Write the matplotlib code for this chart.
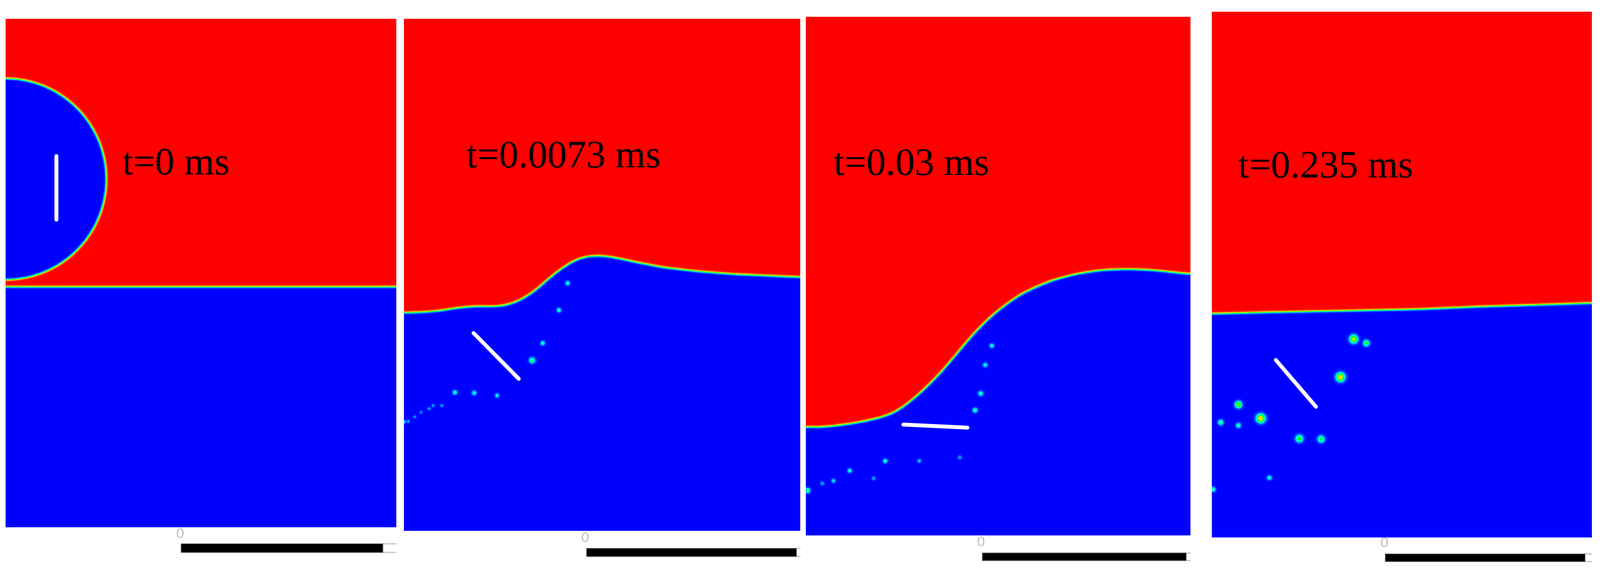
import numpy as np
import matplotlib
matplotlib.use('Agg')
import matplotlib.pyplot as plt
from matplotlib.colors import LinearSegmentedColormap
from matplotlib.patches import Rectangle

# all values are read in reference pixels (x to the right, y downwards)
labels = ['t=0 ms', 't=0.0073 ms', 't=0.03 ms', 't=0.235 ms']
label_x = [241, 918, 1641, 2437]
label_y = [343, 329, 344, 349]

panel_left = [11, 795, 1586, 2385]
panel_right = [780, 1575, 2343, 3133]
panel_top = [37, 37, 33, 23]
panel_bottom = [1037, 1044, 1053, 1057]

# gas/liquid interface
iface1_x = [11, 780]
iface1_y = [564, 564]
iface2_x = [795, 831, 867, 902, 933, 974, 1004, 1030, 1056, 1081, 1122, 1147, 1178, 1209, 1254, 1306, 1377, 1443, 1575]
iface2_y = [615, 614, 611, 605, 602, 603, 599, 587, 570, 546, 516, 505, 502, 506, 516, 526, 534, 539, 545]
iface3_x = [1586, 1621, 1672, 1723, 1759, 1794, 1825, 1856, 1886, 1917, 1958, 2009, 2065, 2116, 2167, 2218, 2269, 2343]
iface3_y = [840, 840, 834, 824, 813, 788, 760, 728, 692, 655, 615, 578, 553, 539, 531, 529, 531, 539]
iface4_x = [2385, 2503, 2656, 2799, 2911, 3013, 3133]
iface4_y = [617, 614, 611, 608, 603, 600, 596]

# bubble in first panel
bubble_x = 11
bubble_y = 352
bubble_r = 198

# white plate ends
plate_x = [[111, 111], [932, 1021], [1778, 1904], [2511, 2590]]
plate_y = [[307, 432], [655, 745], [835, 841], [708, 800]]

# droplets: x, y, peak value, size
drops2_x = [1117, 1100, 1068, 1047, 895, 933, 978, 869, 852, 844, 828, 816, 803, 796]
drops2_y = [557, 610, 675, 709, 772, 773, 778, 798, 798, 804, 811, 820, 829, 830]
drops2_v = [0.34, 0.36, 0.36, 0.45, 0.36, 0.34, 0.3, 0.2, 0.2, 0.2, 0.18, 0.18, 0.2, 0.25]
drops2_s = [3.0, 3.0, 3.0, 3.8, 3.0, 3.0, 2.8, 2.2, 2.2, 2.2, 2.0, 2.0, 2.2, 2.2]

drops3_x = [1952, 1939, 1930, 1919, 1742, 1809, 1889, 1672, 1719, 1640, 1618, 1589]
drops3_y = [680, 718, 774, 807, 907, 907, 900, 926, 941, 946, 951, 965]
drops3_v = [0.33, 0.33, 0.38, 0.4, 0.34, 0.24, 0.2, 0.33, 0.2, 0.27, 0.2, 0.45]
drops3_s = [3.0, 3.0, 3.2, 3.2, 3.0, 2.6, 2.6, 3.0, 2.6, 2.8, 2.6, 3.4]

drops4_x = [2664, 2689, 2638, 2437, 2481, 2402, 2437, 2557, 2600, 2498, 2387]
drops4_y = [667, 675, 742, 796, 823, 831, 837, 863, 864, 940, 963]
drops4_v = [0.75, 0.55, 0.85, 0.68, 0.85, 0.45, 0.42, 0.55, 0.52, 0.32, 0.4]
drops4_s = [5.2, 4.0, 5.6, 4.4, 5.6, 3.5, 3.2, 4.8, 4.5, 3.2, 3.2]

# scale bars under each panel
scale_left = [356, 1154, 1933, 2726]
scale_right = [753, 1567, 2334, 3119]
scale_top = [1069, 1078, 1087, 1089]
scale_bottom = [1086, 1094, 1102, 1104]
zero_x = [355, 1152, 1931, 2725]
zero_y = [1051, 1059, 1067, 1069]

ifaces = [(iface1_x, iface1_y), (iface2_x, iface2_y), (iface3_x, iface3_y), (iface4_x, iface4_y)]
drops = [([], [], [], []),
         (drops2_x, drops2_y, drops2_v, drops2_s),
         (drops3_x, drops3_y, drops3_v, drops3_s),
         (drops4_x, drops4_y, drops4_v, drops4_s)]

W = 3149
H = 1121
edge = 2.2

cmap = LinearSegmentedColormap.from_list('vof', ['#0000ff', '#00ffff', '#00ff00', '#ffff00', '#ff0000'])


def smooth(y, n=31):
    pad = np.pad(y, n, mode='edge')
    kernel = np.ones(n) / n
    return np.convolve(pad, kernel, mode='same')[n:-n]


def make_field(i):
    xs = np.arange(panel_left[i], panel_right[i] + 1)
    ys = np.arange(panel_top[i], panel_bottom[i] + 1)
    X, Y = np.meshgrid(xs, ys)
    line = smooth(smooth(np.interp(xs, ifaces[i][0], ifaces[i][1])))
    slope = np.gradient(line)
    dist = (line[None, :] - Y) / np.sqrt(1 + slope[None, :] ** 2)
    field = 0.5 * (1 + np.tanh(dist / edge))
    if i == 0:
        r = np.hypot(X - bubble_x, Y - bubble_y)
        field = field * 0.5 * (1 + np.tanh((r - bubble_r) / edge))
    dx, dy, dv, ds = drops[i]
    for x0, y0, v, s in zip(dx, dy, dv, ds):
        blob = v * np.exp(-((X - x0) ** 2 + (Y - y0) ** 2) / (2 * s ** 2))
        field = np.maximum(field, blob)
    return field


fig = plt.figure(figsize=(W / 100, H / 100), dpi=100, facecolor='white')
ax = fig.add_axes([0, 0, 1, 1])

for i in range(4):
    ax.imshow(make_field(i), cmap=cmap, vmin=0, vmax=1, aspect='auto', interpolation='bilinear',
              extent=(panel_left[i], panel_right[i], panel_bottom[i], panel_top[i]), zorder=1)
    ax.plot(plate_x[i], plate_y[i], color='white', lw=5.5, solid_capstyle='round', zorder=2)
    ax.text(label_x[i], label_y[i], labels[i], family='Liberation Serif', fontsize=55,
            color='black', ha='left', va='baseline', zorder=3)
    # scale bar, only its top and bottom edges run on to the panel edge
    ax.hlines([scale_top[i], scale_bottom[i]], scale_right[i], panel_right[i], color='#cccccc', lw=2, zorder=2)
    ax.add_patch(Rectangle((scale_left[i], scale_top[i]), scale_right[i] - scale_left[i],
                           scale_bottom[i] - scale_top[i], fc='black', ec='#555555', lw=1, zorder=3))
    ax.text(zero_x[i], zero_y[i], '0', family='Liberation Sans', fontsize=20, color='#bbbbbb',
            ha='center', va='center', zorder=3)

ax.set_xlim(0, W)
ax.set_ylim(H, 0)
ax.axis('off')

fig.savefig('out.png', dpi=100, facecolor='white')
